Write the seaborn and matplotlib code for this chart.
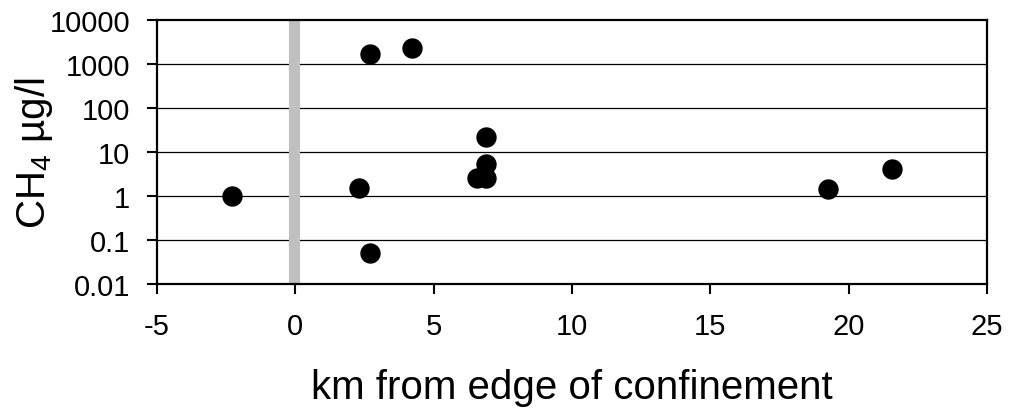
import matplotlib
matplotlib.use("Agg")
import matplotlib.pyplot as plt
import matplotlib.ticker as mticker
import seaborn as sns
import pandas as pd

# Distance from the edge of confinement (km) and dissolved methane (µg/l)
km_from_edge = [-2.3, 2.3, 2.7, 2.7, 4.2, 6.55, 6.9, 6.9, 6.9, 19.25, 21.55]
ch4_ug_per_l = [1.0, 1.5, 1700, 0.05, 2300, 2.6, 2.6, 5.4, 21.5, 1.45, 4.2]

x_ticks = [-5, 0, 5, 10, 15, 20, 25]
y_ticks = [0.01, 0.1, 1, 10, 100, 1000, 10000]
y_tick_labels = ["0.01", "0.1", "1", "10", "100", "1000", "10000"]
confinement_edge = -0.05

df = pd.DataFrame({"km": km_from_edge, "ch4": ch4_ug_per_l})

sns.set_theme(style="white")
plt.rcParams["font.family"] = ["Liberation Sans", "DejaVu Sans"]
plt.rcParams["mathtext.fontset"] = "custom"
plt.rcParams["mathtext.rm"] = "Liberation Sans"
plt.rcParams["mathtext.it"] = "Liberation Sans"

fig = plt.figure(figsize=(10.11, 4.14), dpi=100)
ax = fig.add_axes([0.1553, 0.3116, 0.9763 - 0.1553, 0.9493 - 0.3116])

ax.set_yscale("log")
ax.set_xlim(-5, 25)
ax.set_ylim(0.01, 10000)

# Decade gridlines
for yv in y_ticks[1:-1]:
    ax.axhline(yv, color="black", lw=0.9, zorder=1)

# Edge of confinement
ax.axvline(confinement_edge, color="#c0c0c0", lw=8, zorder=2)

sns.scatterplot(data=df, x="km", y="ch4", ax=ax, color="black", s=215,
                edgecolor="black", linewidth=0, zorder=3, legend=False)

ax.set_xticks(x_ticks)
ax.set_xticklabels([str(t) for t in x_ticks])
ax.yaxis.set_major_locator(mticker.FixedLocator(y_ticks))
ax.set_yticklabels(y_tick_labels)
ax.yaxis.set_minor_locator(mticker.NullLocator())

ax.tick_params(axis="both", which="major", direction="out", length=7.2, width=1.5,
               labelsize=21, color="black", labelcolor="black",
               left=True, bottom=True)
ax.tick_params(axis="x", pad=13)
ax.tick_params(axis="y", pad=12)

for sp in ax.spines.values():
    sp.set_color("black")
    sp.set_linewidth(1.6)
    sp.set_visible(True)

ax.set_xlabel("km from edge of confinement", fontsize=29, color="black", labelpad=20)
ax.set_ylabel("CH$_4$ µg/l", fontsize=29, color="black", labelpad=-4)

fig.savefig("out.png", dpi=100, facecolor="white")
